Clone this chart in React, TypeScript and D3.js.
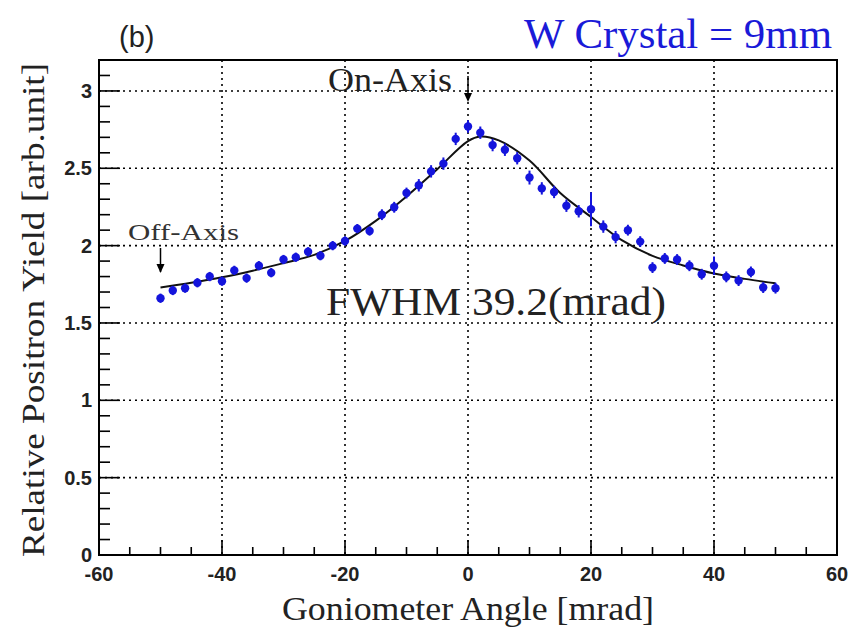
import React from "react";
import * as d3 from "d3";

const angles = [-50,-48,-46,-44,-42,-40,-38,-36,-34,-32,-30,-28,-26,-24,-22,-20,-18,-16,-14,-12,-10,-8,-6,-4,-2,0,2,4,6,8,10,12,14,16,18,20,22,24,26,28,30,32,34,36,38,40,42,44,46,48,50];
const yields = [1.66,1.71,1.725,1.76,1.80,1.77,1.84,1.79,1.87,1.825,1.91,1.925,1.96,1.935,2.00,2.03,2.11,2.095,2.20,2.248,2.34,2.39,2.48,2.53,2.69,2.77,2.73,2.65,2.62,2.565,2.44,2.37,2.347,2.258,2.222,2.235,2.123,2.055,2.10,2.026,1.858,1.917,1.91,1.87,1.815,1.87,1.798,1.774,1.83,1.729,1.725];
const errors = [0.03,0.03,0.03,0.03,0.03,0.03,0.03,0.03,0.03,0.03,0.03,0.03,0.03,0.03,0.03,0.03,0.03,0.03,0.035,0.035,0.035,0.04,0.04,0.04,0.04,0.04,0.04,0.04,0.04,0.04,0.045,0.04,0.04,0.04,0.04,0.11,0.04,0.04,0.035,0.035,0.035,0.035,0.035,0.035,0.035,0.06,0.035,0.035,0.035,0.035,0.035];

const fitX = [-50,-45,-40,-35,-30,-25,-20,-15,-10,-5,0,2,5,10,15,20,25,30,35,40,45,50];
const fitY = [1.73,1.76,1.795,1.838,1.887,1.94,2.03,2.16,2.318,2.494,2.675,2.705,2.68,2.55,2.34,2.185,2.035,1.934,1.872,1.82,1.785,1.757];

const xTicks = [-60,-40,-20,0,20,40,60];
const yTicks = [0,0.5,1,1.5,2,2.5,3];
const yTickLabels = ["0","0.5","1","1.5","2","2.5","3"];

const W = 852, H = 631;
const L = 99, R = 837, T = 60, B = 555;

export default function App() {
  const x = d3.scaleLinear().domain([-60, 60]).range([L, R]);
  const y = d3.scaleLinear().domain([0, 3.2]).range([B, T]);
  const line = d3.line<number>().x((d, i) => x(fitX[i])).y((d) => y(d)).curve(d3.curveCatmullRom.alpha(0.5));
  const xMinor = d3.range(-60, 60.01, 5);
  const yMinor = d3.range(0, 3.201, 0.1);
  const blue = "#1414dc";
  const serif = "'Liberation Serif', 'Times New Roman', serif";
  const sans = "'Liberation Sans', Arial, sans-serif";
  return (
    <svg width={W} height={H} style={{ position: "absolute", left: 0, top: 0, background: "#fff" }}>
      {/* grid */}
      {xTicks.slice(1, -1).map((t) => (
        <line key={"gx" + t} x1={x(t)} x2={x(t)} y1={T} y2={B} stroke="#000" strokeWidth={1.6} strokeDasharray="2 4" />
      ))}
      {yTicks.slice(1).map((t) => (
        <line key={"gy" + t} x1={L} x2={R} y1={y(t)} y2={y(t)} stroke="#000" strokeWidth={1.6} strokeDasharray="2 4" />
      ))}
      {/* ticks */}
      {xMinor.map((t) => {
        const major = Math.abs(t % 20) < 1e-6;
        return <line key={"tx" + t} x1={x(t)} x2={x(t)} y1={B} y2={B - (major ? 15 : 8)} stroke="#000" strokeWidth={1.6} />;
      })}
      {yMinor.map((t) => {
        const major = Math.abs(t * 2 - Math.round(t * 2)) < 1e-6;
        return <line key={"ty" + t.toFixed(1)} x1={L} x2={L + (major ? 21 : 11)} y1={y(t)} y2={y(t)} stroke="#000" strokeWidth={1.6} />;
      })}
      {/* tick labels */}
      {xTicks.map((t) => (
        <text key={"lx" + t} x={x(t)} y={581} textAnchor="middle" fontFamily={sans} fontWeight="bold" fontSize={20} fill="#222">{t}</text>
      ))}
      {yTicks.map((t, i) => (
        <text key={"ly" + t} x={92} y={y(t) + 7} textAnchor="end" fontFamily={sans} fontWeight="bold" fontSize={20} fill="#222">{yTickLabels[i]}</text>
      ))}
      {/* fit curve */}
      <path d={line(fitY) || ""} fill="none" stroke="#111" strokeWidth={2} />
      {/* data */}
      {angles.map((a, i) => (
        <g key={"p" + a}>
          <line x1={x(a)} x2={x(a)} y1={y(yields[i] - errors[i])} y2={y(yields[i] + errors[i])} stroke={blue} strokeWidth={2} />
          <circle cx={x(a)} cy={y(yields[i])} r={4.2} fill={blue} />
        </g>
      ))}
      {/* frame */}
      <rect x={L} y={T} width={R - L} height={B - T} fill="none" stroke="#000" strokeWidth={2} />
      {/* annotations */}
      <text x={328} y={91} fontFamily={serif} fontSize={34} fill="#222" textLength={124} lengthAdjust="spacingAndGlyphs">On-Axis</text>
      <line x1={x(0)} x2={x(0)} y1={76} y2={100} stroke="#000" strokeWidth={1.5} />
      <path d={`M${x(0) - 4},${93} L${x(0)},${102} L${x(0) + 4},${93} Z`} fill="#000" />
      <text x={128} y={240} fontFamily={serif} fontSize={23} fill="#333" textLength={111} lengthAdjust="spacingAndGlyphs">Off-Axis</text>
      <line x1={x(-50)} x2={x(-50)} y1={248} y2={272} stroke="#000" strokeWidth={1.5} />
      <path d={`M${x(-50) - 4},${264} L${x(-50)},${273} L${x(-50) + 4},${264} Z`} fill="#000" />
      <text x={326} y={315} fontFamily={serif} fontSize={40} fill="#222" textLength={340} lengthAdjust="spacingAndGlyphs">FWHM 39.2(mrad)</text>
      {/* titles */}
      <text x={119} y={47} fontFamily={sans} fontSize={29} fill="#222">(b)</text>
      <text x={832} y={48} textAnchor="end" fontFamily={serif} fontSize={42} fill="#1a1ad8" textLength={308} lengthAdjust="spacingAndGlyphs">W Crystal = 9mm</text>
      <text x={468} y={620} textAnchor="middle" fontFamily={serif} fontSize={33} fill="#222" textLength={372} lengthAdjust="spacingAndGlyphs">Goniometer Angle [mrad]</text>
      <text transform={`translate(44, 310) rotate(-90)`} textAnchor="middle" fontFamily={serif} fontSize={32} fill="#222" textLength={494} lengthAdjust="spacingAndGlyphs">Relative Positron Yield [arb.unit]</text>
    </svg>
  );
}
